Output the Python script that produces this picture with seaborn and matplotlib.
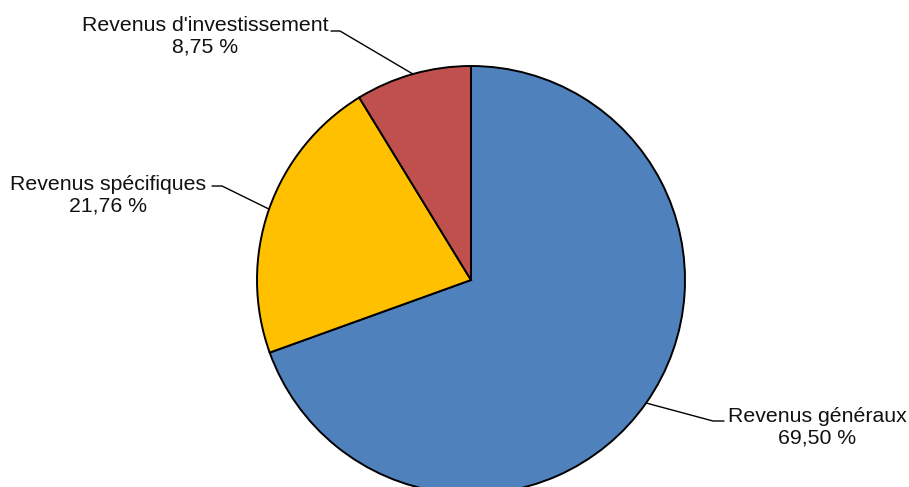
import numpy as np
import matplotlib
matplotlib.use('Agg')
import matplotlib.pyplot as plt
import seaborn as sns

# Data
labels = ['Revenus généraux', 'Revenus spécifiques', "Revenus d'investissement"]
shares = [69.50, 21.76, 8.75]
colors = ['#4F81BD', '#FFC000', '#C0504D']

# label layout (pixel coords, y down) : text centre, elbow start, elbow end
label_pos = [(817, 427), (108, 195), (205, 36)]
elbows = [((724, 421), (713, 421)), ((212, 186), (222, 186)), ((331, 31), (340, 31))]

sns.set_style('white')
plt.rcParams['font.family'] = ['Liberation Sans', 'DejaVu Sans']

W, H = 909, 487
fig = plt.figure(figsize=(W / 100, H / 100), dpi=100)
ax = fig.add_axes([0, 0, 1, 1])

cx, cy, r = 471, H - 280, 214
wedges, _ = ax.pie(shares, colors=colors, startangle=90, counterclock=False,
                   center=(cx, cy), radius=r, frame=True,
                   wedgeprops=dict(edgecolor='black', linewidth=1.4))
ax.set_xlim(0, W)
ax.set_ylim(0, H)
ax.set_aspect('equal')
ax.axis('off')

for w, lab, val, (tx, ty), (e0, e1) in zip(wedges, labels, shares, label_pos, elbows):
    mid = np.deg2rad((w.theta1 + w.theta2) / 2)
    ax_, ay_ = cx + r * np.cos(mid), cy + r * np.sin(mid)
    ax.plot([e0[0], e1[0], ax_], [H - e0[1], H - e1[1], ay_], color='black', lw=1.0)
    ax.text(tx, H - ty, f"{lab}\n{val:.2f} %".replace('.', ','), ha='center', va='center',
            fontsize=15.3, multialignment='center', color='#111111',
            linespacing=1.15)

fig.savefig('out.png', dpi=100)
